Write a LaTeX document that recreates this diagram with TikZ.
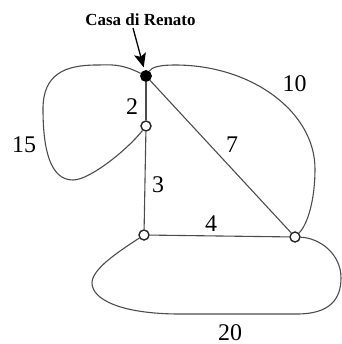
\documentclass[tikz,border=0pt]{standalone}
\usepackage{fontspec}
\setmainfont{Liberation Serif}
\usetikzlibrary{arrows.meta}
\begin{document}
\begin{tikzpicture}[x=1bp,y=1bp,
  edge/.style={draw=black!70,line width=1.1bp},
  vfull/.style={circle,fill=black,draw=black,line width=0.8bp,inner sep=0pt,minimum size=11bp},
  vopen/.style={circle,fill=white,draw=black!85,line width=1.4bp,inner sep=0pt,minimum size=10bp},
  wlab/.style={anchor=base,inner sep=0pt,font=\fontsize{24}{24}\selectfont},
  title/.style={anchor=base,inner sep=0pt,font=\fontsize{17}{17}\selectfont\bfseries}]
\useasboundingbox (0,0) rectangle (342,344);
% vertices
\node[vfull] (A) at (146,268) {};
\node[vopen] (B) at (146,218) {};
\node[vopen] (C) at (144,109) {};
\node[vopen] (D) at (295,107) {};
% title and arrow
\node[title] (casa) at (140.5,319) {Casa di Renato};
\coordinate (arrstart) at (133,316);
\draw[line width=1.3bp,-{Stealth[length=14bp,width=12bp,inset=3bp]},shorten >=3bp] (arrstart) -- (A);
% straight edges
\draw[edge] (A) -- (B);
\draw[edge] (B) -- (C);
\draw[edge] (C) -- (D);
\draw[edge] (A) -- (D);
% loop 15 (A to B)
\draw[edge] (A) .. controls (120,281) and (110,279) .. (97,279)
  .. controls (65,279) and (43,270) .. (43,235)
  .. controls (43,195) and (50,164) .. (73,164)
  .. controls (90,164) and (128,195) .. (B);
% loop 10 (A to D)
\draw[edge] (A) .. controls (152,277) and (160,279) .. (175,279)
  .. controls (252,279) and (315,232) .. (315,175)
  .. controls (315,145) and (308,120) .. (D);
% loop 20 (C to D)
\draw[edge] (C) .. controls (118,92) and (92,75) .. (92,61)
  .. controls (92,45) and (120,30) .. (180,30)
  -- (297,30)
  .. controls (330,30) and (341,45) .. (341,66)
  .. controls (341,90) and (320,106) .. (D);
% labels
\node[wlab] (l2) at (132,230) {2};
\node[wlab] (l15) at (24,192) {15};
\node[wlab] (l10) at (294.5,253) {10};
\node[wlab] (l7) at (232,192) {7};
\node[wlab] (l3) at (158,152) {3};
\node[wlab] (l4) at (211,113) {4};
\node[wlab] (l20) at (230,4) {20};
\end{tikzpicture}
\end{document}
